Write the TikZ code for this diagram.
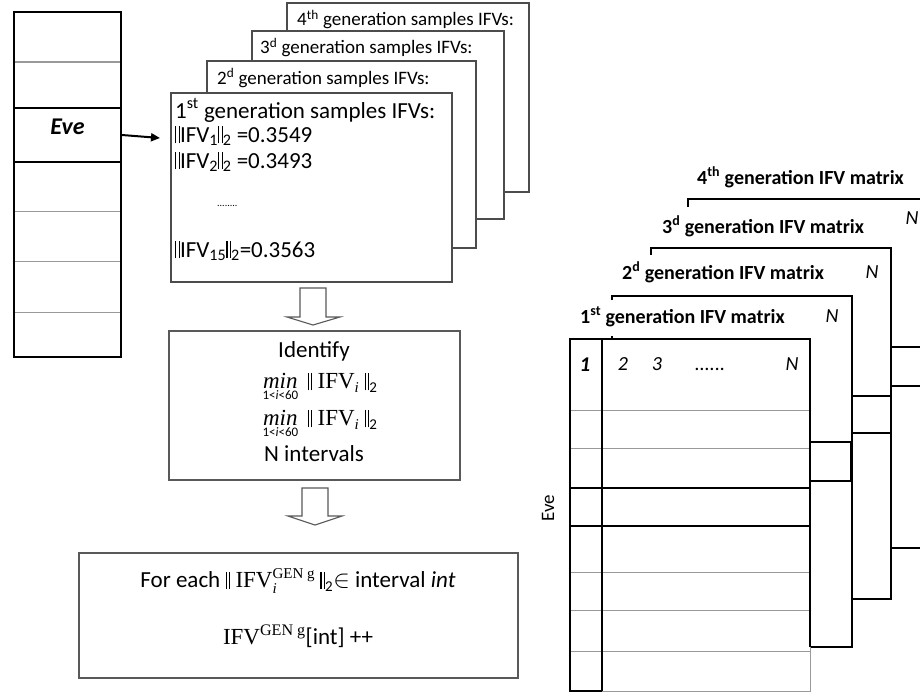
\documentclass[tikz,border=0pt]{standalone}
\usepackage{fontspec}
\setmainfont{Carlito}
\newfontfamily\cambriafont{Liberation Serif}
\usetikzlibrary{arrows.meta,fit}
\newcommand{\subsz}{\fontsize{15}{15}\selectfont}
\newcommand{\dbar}{\raisebox{-0.06em}{\rule{0.055em}{0.74em}\kern0.1em\rule{0.055em}{0.74em}}}
\newcommand{\minexpr}{$\mathop{\hbox{\cambriafont\itshape min}}\limits_{\hbox{\fontsize{13}{13}\selectfont 1<\textit{i}<60}}\ \hbox{\dbar}\ \hbox{\cambriafont IFV}_{\hbox{\subsz\cambriafont\itshape i}}\ \hbox{\dbar}_{\hbox{\subsz 2}}$}
\begin{document}
\begin{tikzpicture}[x=1pt,y=-1pt,
  thk/.style={line width=2pt,draw=black},
  thn/.style={line width=1pt,draw=black!40},
  sbox/.style={draw=black!70,line width=1.2pt,fill=white,inner sep=0pt},
  blk/.style={draw=black!65,line width=1.1pt,fill=white,inner sep=0pt},
  lbl/.style={inner sep=0pt,anchor=west,text height=0.7em,text depth=0.1em},
  ctr/.style={inner sep=0pt,anchor=center},
  mexp/.style={inner sep=0pt,anchor=center,text height=14pt,text depth=14pt},
  hb/.style={inner sep=0pt,anchor=base},
  fbig/.style={font=\fontsize{23}{27}\selectfont},
  fsmall/.style={font=\fontsize{19}{22}\selectfont},
  ftitle/.style={font=\fontsize{20}{23}\selectfont\bfseries},
  fhead/.style={font=\fontsize{20}{24}\selectfont\itshape},
]
\useasboundingbox (0,0) rectangle (920,693);
\fill[white] (0,0) rectangle (920,693);

% left column
\draw[thn] (14,62) -- (121,62) (14,211) -- (121,211) (14,261) -- (121,261) (14,312) -- (121,312);
\draw[thk] (14,12) rectangle (121,357);
\node[thk, fit={(14,108) (121,162)}, inner sep=0pt, font=\fontsize{24}{28}\selectfont\bfseries\itshape] (eve) {Eve};
\coordinate (tip) at (160,138);
\draw[line width=2pt,-{Triangle[length=9pt,width=8pt]}] (eve.east) -- (tip);

% sample stack
\node[sbox, fit={(287,3) (529,192)}] (s4) {};
\node[lbl, fsmall] (t4) at (297,23) {4\textsuperscript{th} generation samples IFVs:};
\node[sbox, fit={(252,31) (504,219)}] (s3) {};
\node[lbl, fsmall] (t3) at (260,51) {3\textsuperscript{d} generation samples IFVs:};
\node[sbox, fit={(207,61) (476,248)}] (s2) {};
\node[lbl, fsmall] (t2) at (217,81) {2\textsuperscript{d} generation samples IFVs:};
\node[sbox, fit={(171,93) (452,282)}] (s1) {};
\node[lbl, fbig] (t1) at (175,115) {1\textsuperscript{st} generation samples IFVs:};
\node[lbl, fbig] (v1) at (175,139) {\dbar IFV\textsubscript{1}\dbar\textsubscript{2} =0.3549};
\node[lbl, fbig] (v2) at (175,165) {\dbar IFV\textsubscript{2}\dbar\textsubscript{2} =0.3493};
\node[hb, font=\fontsize{10}{12}\selectfont, anchor=base west] (dots) at (217,206) {........};
\node[lbl, fbig] (v15) at (175,254) {\dbar IFV\textsubscript{15}\dbar\textsubscript{2}=0.3563};

% block arrow 1
\draw[blk] (300,288) -- (326,288) -- (326,317) -- (340,317) -- (313,325) -- (287,317) -- (300,317) -- cycle;

% middle box
\node[blk, fit={(169,331) (460,480)}] (mid) {};
\node[ctr, fbig] (ident) at (314,351) {Identify};
\node[ctr, fbig] (min1) at (320,387) {\minexpr};
\node[ctr, fbig] (min2) at (320,424) {\minexpr};
\node[ctr, fbig] (nint) at (314,454) {N intervals};

% block arrow 2
\draw[blk] (302,488) -- (328,488) -- (328,516) -- (342,516) -- (315,525) -- (288,516) -- (302,516) -- cycle;

% bottom box
\node[blk, fit={(79,553) (518,678)}] (bot) {};
\node[ctr, fbig] (each) at (298,581) {For each $\hbox{\dbar}\ \hbox{\cambriafont IFV}_{\hbox{\subsz\cambriafont\itshape i}}^{\hbox{\subsz\cambriafont GEN g}}\ \hbox{\dbar}_{\hbox{\subsz 2}}{\in}$ interval \textit{int}};
\node[ctr, fbig] (incr) at (298,636) {{\cambriafont IFV}\textsuperscript{\cambriafont GEN g}[int] ++};

% 4th matrix
\draw[thk] (688,207) -- (688,199) -- (921,199);
\draw[thk] (891,347) -- (921,347) (891,386) -- (921,386) (891,548) -- (921,548);
\node[lbl, ftitle] (mt4) at (697,181) {4\textsuperscript{th} generation IFV matrix};
% 3rd matrix
\draw[thk] (651,255) -- (651,248) -- (891,248) -- (891,599) -- (852,599);
\draw[thk] (852,396) rectangle (891,433);
\node[lbl, ftitle] (mt3) at (662,230) {3\textsuperscript{d} generation IFV matrix};
\node[ctr, fhead] (n3) at (912,218) {N};
% 2nd matrix
\draw[thk] (612,300) -- (612,296) -- (852,296) -- (852,647) -- (810,647);
\draw[thk] (612,336) -- (612,339);
\draw[thk] (810,442) rectangle (851,481);
\node[lbl, ftitle] (mt2) at (622,276) {2\textsuperscript{d} generation IFV matrix};
\node[ctr, fhead] (n2) at (872,272) {N};
% 1st matrix
\node[lbl, ftitle] (mt1) at (580,320) {1\textsuperscript{st} generation IFV matrix};
\node[ctr, fhead] (n1) at (832,316) {N};
\draw[thn] (570,410) -- (810,410) (570,448) -- (810,448) (570,572) -- (810,572) (570,610) -- (810,610) (570,651) -- (810,651);
\draw[thn] (602,691) -- (810,691) -- (810,647);
\draw[thk] (810,647) -- (810,339) -- (570,339) -- (570,691) -- (602,691);
\draw[line width=1.5pt] (602,339) -- (602,691);
\draw[thk] (570,488) rectangle (810,526);
\node[hb, font=\fontsize{21}{24}\selectfont\bfseries\itshape] (h1) at (585,371) {1};
\node[hb, fhead] (h2) at (623,370) {2};
\node[hb, fhead] (h3) at (657,370) {3};
\node[hb, fhead] (hd) at (710,370) {......};
\node[hb, fhead] (hn) at (792,370) {N};
\node[ctr, font=\fontsize{19}{22}\selectfont, rotate=90] (evelbl) at (548,508) {Eve};
\end{tikzpicture}
\end{document}
